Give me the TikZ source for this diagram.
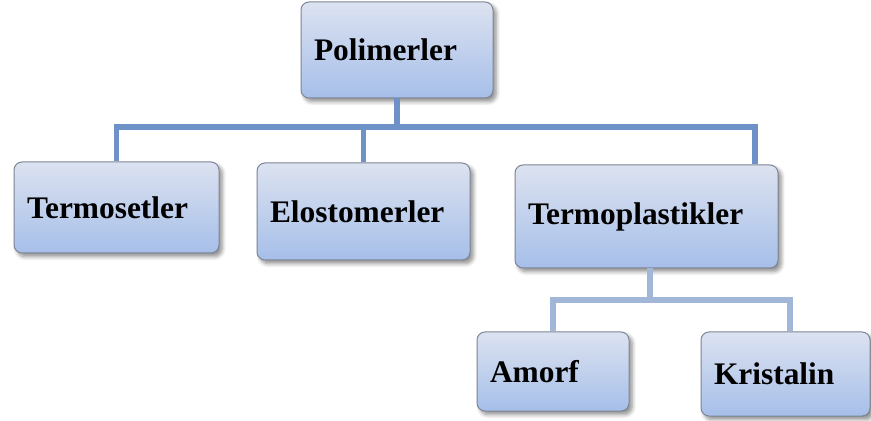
\documentclass[tikz,border=0pt]{standalone}
\usepackage{fontspec}
\setmainfont{Liberation Serif}
\usetikzlibrary{shadows.blur}
\definecolor{boxtop}{RGB}{220,226,240}
\definecolor{boxbot}{RGB}{166,191,233}
\definecolor{boxedge}{RGB}{125,133,150}
\definecolor{linkA}{RGB}{110,145,200}
\definecolor{linkB}{RGB}{162,182,216}
\tikzset{
  unitbox/.style n args={2}{
    draw=boxedge, line width=0.5pt, rounded corners=4pt,
    top color=boxtop, bottom color=boxbot,
    minimum width=#1, minimum height=#2,
    text width=#1-13pt, inner xsep=6.5pt, inner ysep=0pt, align=left,
    font=\fontsize{15.7pt}{18pt}\selectfont\bfseries,
    blur shadow={shadow xshift=1.6pt, shadow yshift=-1.8pt,
                 shadow blur steps=6, shadow blur radius=2pt, shadow opacity=45}
  },
  linkmain/.style={draw=linkA, line width=2.8pt},
  linksub/.style={draw=linkB, line width=2.8pt}
}
\begin{document}
\begin{tikzpicture}[x=0.5pt, y=-0.5pt]
\useasboundingbox (0,0) rectangle (871,421);

% boxes
\node[unitbox={96pt}{48pt}]     (pol)  at (397,50)    {Polimerler};
\node[unitbox={102.5pt}{45.5pt}] (tset) at (116.5,207.5) {Termosetler};
\node[unitbox={106.5pt}{48.5pt}] (elo)  at (363.5,211.5) {Elostomerler};
\node[unitbox={131.5pt}{51.5pt}] (tpl)  at (646.5,216.5) {Termoplastikler};
\node[unitbox={76pt}{39.5pt}]   (amo)  at (553,371.5) {Amorf};
\node[unitbox={84.5pt}{42pt}]   (kri)  at (785.5,374) {Kristalin};

% first level connectors
\coordinate (busA) at (397,127);
\coordinate (busAl) at (116.5,127);
\coordinate (busAm) at (363.5,127);
\coordinate (busAr) at (755,127);
\draw[linkmain] (pol.south) -- (busA);
\draw[linkmain, line cap=rect] (busAl) -- (busAr);
\draw[linkmain] (busAl) -- (tset.north);
\draw[linkmain] (busAm) -- (elo.north);
\draw[linkmain] (busAr) -- (busAr |- tpl.north);

% second level connectors
\coordinate (busB) at (650,300);
\coordinate (busBl) at (553,300);
\coordinate (busBr) at (790,300);
\draw[linksub] (busB |- tpl.south) -- (busB);
\draw[linksub, line cap=rect] (busBl) -- (busBr);
\draw[linksub] (busBl) -- (amo.north);
\draw[linksub] (busBr) -- (busBr |- kri.north);
\end{tikzpicture}
\end{document}
